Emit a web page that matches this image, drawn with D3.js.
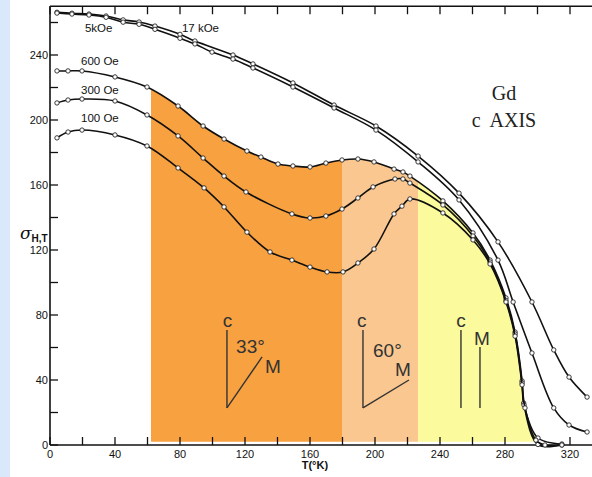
<!DOCTYPE html>
<html lang="en">

<head>
    <meta charset="UTF-8">
    <title>Gd c axis</title>
    <script src="https://cdn.jsdelivr.net/npm/d3@7"></script>
    <style>
        body {
            margin: 0;
            background: #fff;
        }

        .tick-label {
            font-family: "Liberation Sans", Arial, sans-serif;
            font-size: 11px;
            fill: #111;
        }
    </style>
</head>

<body>
    <svg id="chart" width="592" height="477"></svg>

    <script>
        // temperature (K) and sigma values
        const t17k = [4.3, 13.5, 24, 34.5, 45, 54.8, 64.6, 80, 89.2, 112.6, 124.9, 149.5, 174.8, 200.6, 226.5, 251.7, 275.7, 296.6, 310, 319.4, 330.5]
        const s17k = [266.3, 265.7, 265.2, 264, 261.6, 260.3, 257.8, 252.7, 248.6, 240, 234.5, 222.8, 209.2, 196.3, 177.8, 155, 125, 88, 58.5, 41.8, 29.5]

        const t5k = [4.3, 13.5, 24, 34.5, 45, 54.8, 64.6, 80, 89.2, 99.7, 112.6, 124.9, 149.5, 174.8, 200.6, 226.5, 251.7, 275.7, 285, 296.6, 310, 319.4, 330.5]
        const s5k = [265.8, 265.2, 264.6, 263.2, 260.2, 258.9, 255.8, 250.3, 246.8, 241.8, 237.5, 232, 220.3, 207.4, 193.8, 174.2, 150.8, 113.8, 88, 56.6, 22.8, 12.3, 8]

        const t600 = [4.3, 11.1, 19.7, 40, 59.7, 78.8, 94.2, 107.1, 121.2, 129.8, 140.3, 149.5, 160, 169.8, 179.7, 189.5, 199.4, 211.7, 217.2, 221.5, 241.8, 260.3, 270.8, 280.6, 286.2, 290.5, 291.5, 300.3, 315]
        const s600 = [230.2, 230.2, 230.2, 226.5, 220.3, 208.6, 196.3, 188.3, 180.9, 177.2, 172.9, 171.7, 171.1, 173.5, 175.4, 176, 174.2, 169.8, 168, 165.5, 150.2, 130.5, 113.8, 90.5, 69.5, 39.4, 25.8, 4.3, 0.6]

        const t300 = [4.3, 11.1, 19.7, 40, 59.7, 78.8, 94.2, 107.1, 120.6, 148.9, 160, 169.8, 179.7, 189.5, 198.8, 212.3, 217.2, 221.5, 241.8, 260.3, 270.8, 280.6, 286.2, 290.5, 291.7, 300.3, 315]
        const s300 = [210.5, 212.3, 212.9, 211.7, 203.1, 190.2, 176.6, 165.5, 155.7, 142.2, 139.7, 140.9, 145.2, 152, 158.8, 163.7, 163.7, 161.2, 147.7, 128.6, 112.6, 89, 68.3, 38.2, 24.6, 0.3, 0]

        const t100 = [4.3, 11.1, 19.7, 40, 59.7, 78.8, 94.8, 107.1, 121.2, 135.4, 148.9, 160, 170.5, 180.3, 189.5, 199.4, 211.7, 216.6, 221.5, 241.8, 260.3, 270.8, 280.6, 286.2, 290.5, 292.3, 299, 304.6, 315]
        const s100 = [189, 192.6, 193.8, 190.8, 184, 170.5, 158.2, 146.5, 131, 118.8, 113.8, 109.5, 106.5, 106.5, 112, 120.6, 142.2, 147, 151.4, 142.8, 126.2, 111.4, 88, 67, 37, 22.8, 3, 0, 0]

        const curveNames = ['17 kOe', '5kOe', '600 Oe', '300 Oe', '100 Oe']

        // coloured bands (T from, T to)
        const bandStart = [62.2, 179.7, 226.5]
        const bandEnd = [179.7, 226.5, 299]
        const bandColor = ['#f8a141', '#f9c78f', '#fbfb9d']

        const xTicks = d3.range(0, 340, 20)
        const yTicks = d3.range(0, 280, 20)

        const svg = d3.select('#chart')

        const x = d3.scaleLinear().domain([0, 320]).range([50, 570])
        const y = d3.scaleLinear().domain([0, 240]).range([445, 55])

        // light blue strip on the left
        svg.append('rect').attr('x', 0).attr('y', 0).attr('width', 10).attr('height', 477).attr('fill', '#d9e9fb')

        const zip = (ts, ss) => ts.map((t, i) => [t, ss[i]])
        const series = [zip(t17k, s17k), zip(t5k, s5k), zip(t600, s600), zip(t300, s300), zip(t100, s100)]

        // bands, topped by the 600 Oe curve
        const defs = svg.append('defs')
        bandStart.forEach((b, i) => {
            defs.append('clipPath').attr('id', 'band' + i)
                .append('rect')
                .attr('x', x(b)).attr('y', 0)
                .attr('width', x(bandEnd[i]) - x(b)).attr('height', 477)
        })
        const area = d3.area()
            .x(d => x(d[0]))
            .y0(y(2))
            .y1(d => y(Math.max(d[1], 2)))
            .curve(d3.curveCatmullRom.alpha(0.5))
        bandStart.forEach((b, i) => {
            svg.append('path')
                .attr('d', area(series[2]))
                .attr('fill', bandColor[i])
                .attr('clip-path', `url(#band${i})`)
        })

        // axes frame
        const sTop = 270,
            tRight = 334
        svg.append('line').attr('x1', x(0)).attr('x2', x(tRight)).attr('y1', y(0)).attr('y2', y(0))
            .attr('stroke', '#111').attr('stroke-width', 1.6)
        svg.append('line').attr('x1', x(0)).attr('x2', x(tRight)).attr('y1', y(sTop)).attr('y2', y(sTop))
            .attr('stroke', '#111').attr('stroke-width', 1.6)
        svg.append('line').attr('x1', x(0)).attr('x2', x(0)).attr('y1', y(0)).attr('y2', y(sTop))
            .attr('stroke', '#111').attr('stroke-width', 1.6)

        xTicks.forEach(t => {
            svg.append('line').attr('x1', x(t)).attr('x2', x(t)).attr('y1', y(0)).attr('y2', y(0) - 8)
                .attr('stroke', '#111').attr('stroke-width', 1.3)
            svg.append('line').attr('x1', x(t)).attr('x2', x(t)).attr('y1', y(sTop)).attr('y2', y(sTop) + 8)
                .attr('stroke', '#111').attr('stroke-width', 1.3)
            if (t % 40 === 0) {
                svg.append('text').attr('class', 'tick-label')
                    .attr('x', x(t)).attr('y', y(0) + 13)
                    .attr('text-anchor', 'middle')
                    .text(t)
            }
        })
        yTicks.forEach(v => {
            svg.append('line').attr('x1', x(0)).attr('x2', x(0) + 8).attr('y1', y(v)).attr('y2', y(v))
                .attr('stroke', '#111').attr('stroke-width', 1.3)
            if (v % 40 === 0 && v <= 240) {
                svg.append('text').attr('class', 'tick-label')
                    .attr('x', x(0) - 2).attr('y', y(v) + 4)
                    .attr('text-anchor', 'end')
                    .text(v)
            }
        })

        // axis titles
        svg.append('text').attr('class', 'tick-label')
            .attr('x', x(163)).attr('y', 469)
            .attr('text-anchor', 'middle')
            .style('font-weight', 'bold')
            .text('T(°K)')
        const yl = svg.append('text').attr('x', 20).attr('y', 239)
            .style('font-family', '"DejaVu Serif", serif').style('fill', '#111')
        yl.append('tspan').style('font-size', '17px').style('font-style', 'italic').text('σ')
        yl.append('tspan').attr('dy', 3).style('font-size', '10px').style('font-family', '"Liberation Sans", Arial')
            .style('font-weight', 'bold').text('H,T')

        // curves with open circles
        const line = d3.line()
            .x(d => x(d[0]))
            .y(d => y(d[1]))
            .curve(d3.curveCatmullRom.alpha(0.5))

        series.forEach(s => {
            svg.append('path')
                .attr('d', line(s))
                .attr('fill', 'none')
                .attr('stroke', '#111')
                .attr('stroke-width', 1.6)
            svg.append('g').selectAll('circle').data(s).join('circle')
                .attr('cx', d => x(d[0]))
                .attr('cy', d => y(d[1]))
                .attr('r', 2.2)
                .attr('fill', '#fff')
                .attr('stroke', '#222')
                .attr('stroke-width', 0.9)
        })

        // curve labels
        const labelT = [81.2, 21.5, 19.1, 19.1, 19.1]
        const labelS = [254.2, 254.2, 233.6, 215.8, 198.5]
        curveNames.forEach((n, i) => {
            svg.append('text').attr('class', 'tick-label')
                .attr('x', x(labelT[i])).attr('y', y(labelS[i]))
                .style('font-size', '11.5px')
                .text(n)
        })

        // Gd c AXIS
        svg.append('text').attr('x', x(279.4)).attr('y', y(212.3))
            .attr('text-anchor', 'middle')
            .style('font-family', '"Liberation Serif", "Times New Roman", serif')
            .style('font-size', '20px').style('fill', '#222')
            .text('Gd')
        svg.append('text').attr('x', x(279.4)).attr('y', y(195.7))
            .attr('text-anchor', 'middle')
            .style('font-family', '"Liberation Serif", "Times New Roman", serif')
            .style('font-size', '20px').style('fill', '#222')
            .style('white-space', 'pre')
            .text('c  AXIS')

        // c / M direction sketches
        const annoLines = [
            [108.9, 70.8, 108.9, 22.8],
            [108.9, 22.8, 130.5, 54.2],
            [192.6, 70.8, 192.6, 22.8],
            [192.6, 22.8, 220.9, 40],
            [252.9, 70.8, 252.9, 22.8],
            [264.6, 60.3, 264.6, 22.8]
        ]
        annoLines.forEach(l => {
            svg.append('line')
                .attr('x1', x(l[0])).attr('y1', y(l[1]))
                .attr('x2', x(l[2])).attr('y2', y(l[3]))
                .attr('stroke', '#333').attr('stroke-width', 1.4)
        })
        const annoText = ['c', '33°', 'M', 'c', '60°', 'M', 'c', 'M']
        const annoT = [109.3, 114.5, 132.3, 191.8, 198.8, 212.3, 252.9, 260.9]
        const annoS = [72.6, 56.6, 44.3, 72.6, 54.2, 42.5, 72.6, 61.5]
        annoText.forEach((s, i) => {
            svg.append('text')
                .attr('x', x(annoT[i])).attr('y', y(annoS[i]))
                .attr('text-anchor', s === 'c' ? 'middle' : 'start')
                .style('font-family', '"Liberation Sans", Arial, sans-serif')
                .style('font-size', '19px')
                .style('fill', '#333')
                .text(s)
        })
    </script>
</body>

</html>
